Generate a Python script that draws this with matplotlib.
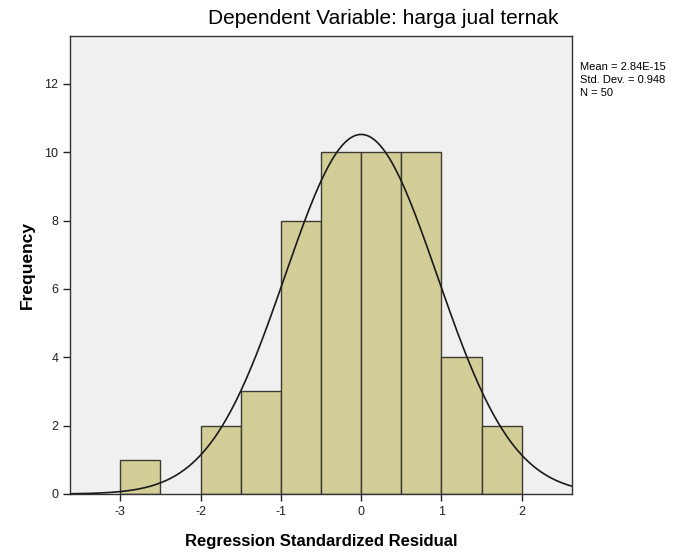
import matplotlib
matplotlib.use('Agg')
import matplotlib.pyplot as plt
import numpy as np

plt.rcParams['font.family'] = ['Liberation Sans', 'DejaVu Sans']
plt.rcParams['axes.unicode_minus'] = False

# histogram data
bin_edges = [-3.0, -2.5, -2.0, -1.5, -1.0, -0.5, 0.0, 0.5, 1.0, 1.5, 2.0]
counts = [1, 0, 2, 3, 8, 10, 10, 10, 4, 2]
mean = 2.84e-15
std_dev = 0.948
n_total = 50
bin_width = 0.5

fig = plt.figure(figsize=(6.82, 5.52), dpi=100)
ax = fig.add_axes([70 / 682, 58 / 552, 502 / 682, 458 / 552])
ax.set_facecolor('#f0f0f0')

lefts = bin_edges[:-1]
for x0, c in zip(lefts, counts):
    if c > 0:
        ax.bar(x0, c, width=bin_width, align='edge', color='#d3ce98',
               edgecolor='#3c3c32', linewidth=1.0, zorder=2)

# fitted normal curve
xs = np.linspace(-3.625, 2.625, 400)
ys = n_total * bin_width * np.exp(-0.5 * ((xs - mean) / std_dev) ** 2) / (std_dev * np.sqrt(2 * np.pi))
ax.plot(xs, ys, color='#1a1a1a', linewidth=1.2, zorder=3)

ax.set_xlim(-3.625, 2.625)
ax.set_ylim(0, 13.4)
ax.set_xticks([-3, -2, -1, 0, 1, 2])
ax.set_yticks([0, 2, 4, 6, 8, 10, 12])
ax.tick_params(direction='out', length=5, width=1, labelsize=9, colors='#222222')
for s in ax.spines.values():
    s.set_color('#333333')
    s.set_linewidth(1.0)

ax.set_xlabel('Regression Standardized Residual', fontsize=12, fontweight='bold', labelpad=12)
ax.set_ylabel('Frequency', fontsize=12.5, fontweight='bold', labelpad=7)

fig.text(383 / 682, 1 - 18 / 552, 'Dependent Variable: harga jual ternak',
         ha='center', va='center', fontsize=15)

fig.text(580 / 682, 1 - 62 / 552,
         'Mean = 2.84E-15\nStd. Dev. = 0.948\nN = 50',
         ha='left', va='top', fontsize=8, linespacing=1.4)

fig.savefig('out.png', dpi=100)
